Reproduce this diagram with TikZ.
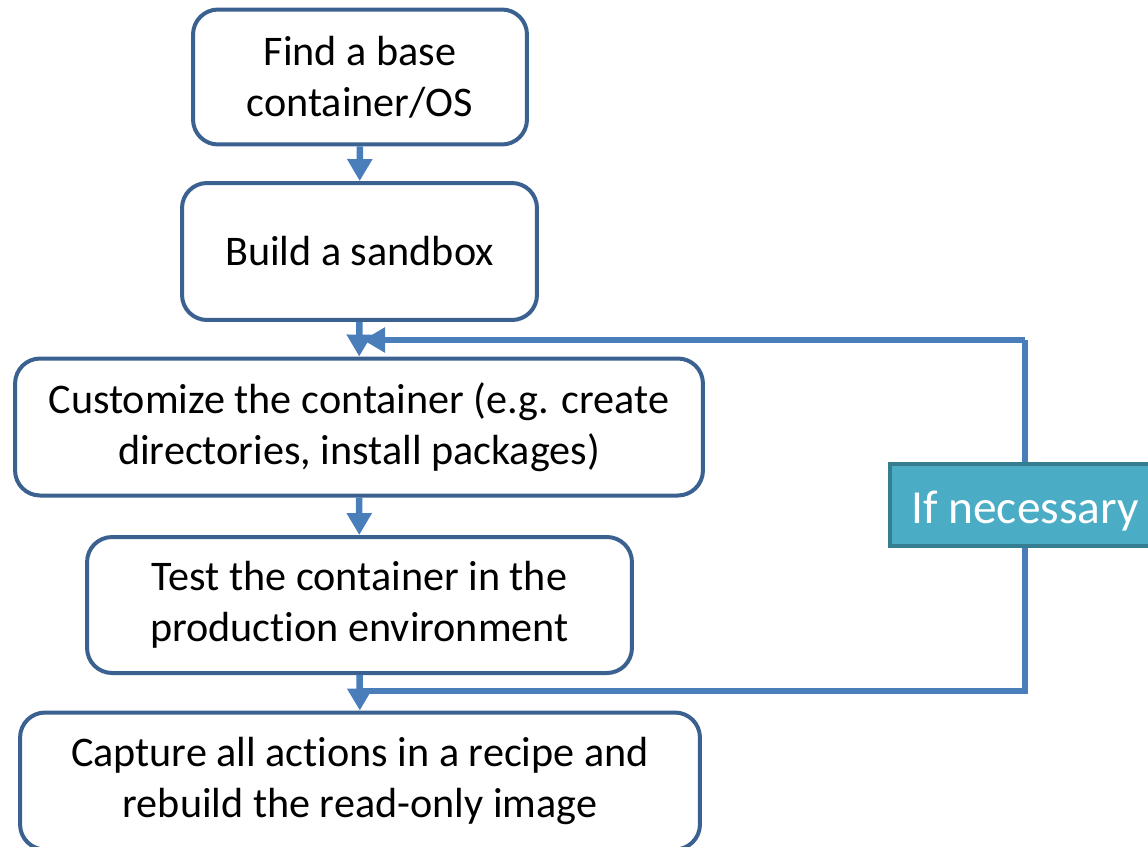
\documentclass[tikz,border=0pt]{standalone}
\usepackage{fontspec}
\setmainfont{Carlito}[Ligatures=NoCommon]
\usetikzlibrary{arrows.meta}

\definecolor{boxline}{HTML}{3A6190}
\definecolor{arrowblue}{HTML}{4A7EBB}
\definecolor{flagfill}{HTML}{4BACC6}
\definecolor{flagline}{HTML}{357D91}

\tikzset{
    stepbox/.style={shape=rectangle,rounded corners=0.5cm,draw=boxline,line width=0.08cm,
        fill=white,align=center,inner sep=0pt,minimum height=2.74cm,
        font=\fontsize{24}{29}\selectfont},
    flow/.style={draw=arrowblue,line width=0.13cm,-{Triangle[width=0.48cm,length=0.44cm]}},
    loopline/.style={draw=arrowblue,line width=0.12cm},
    flag/.style={shape=rectangle,fill=flagfill,draw=flagline,line width=0.08cm,
        text=white,inner sep=0pt,minimum width=5.4cm,minimum height=1.64cm,
        text height=0.9cm,text depth=0.17cm,
        font=\fontsize{27}{32}\selectfont}
}

\begin{document}
\begin{tikzpicture}[x=0.02cm,y=-0.02cm]
                \useasboundingbox (0,0) rectangle (1148,846);

                \node[stepbox,minimum width=6.68cm,minimum height=2.70cm] (find) at (360,77) {Find a base\\container/OS};
                \node[stepbox,minimum width=7.10cm] (build) at (359.5,251.5) {Build a sandbox};
                \node[stepbox,minimum width=13.76cm] (custom) at (359,427) {Customize the container (e.g. create\\directories, install packages)};
                \node[stepbox,minimum width=10.90cm,minimum height=2.72cm] (test) at (359.5,605) {Test the container in the\\production environment};
                \node[stepbox,minimum width=13.60cm] (capture) at (360,781) {Capture all actions in a recipe and\\rebuild the read-only image};

                \coordinate (loopstart) at (357,691);
                \coordinate (loopcorner1) at (1025,691);
                \coordinate (loopcorner2) at (1025,340);
                \coordinate (loopend) at (363,340);

                % feedback loop
                \path [loopline] (loopstart) -- (loopcorner1) -- node[flag,pos=0.53] (cond) {If necessary} (loopcorner2);
                \path [flow] (loopcorner2) -- (loopend);

                \path [flow] (find) -- (build);
                \path [flow] (build) -- (custom);
                \path [flow] (custom) -- (test);
                \path [flow] (test) -- (capture);
\end{tikzpicture}
\end{document}
